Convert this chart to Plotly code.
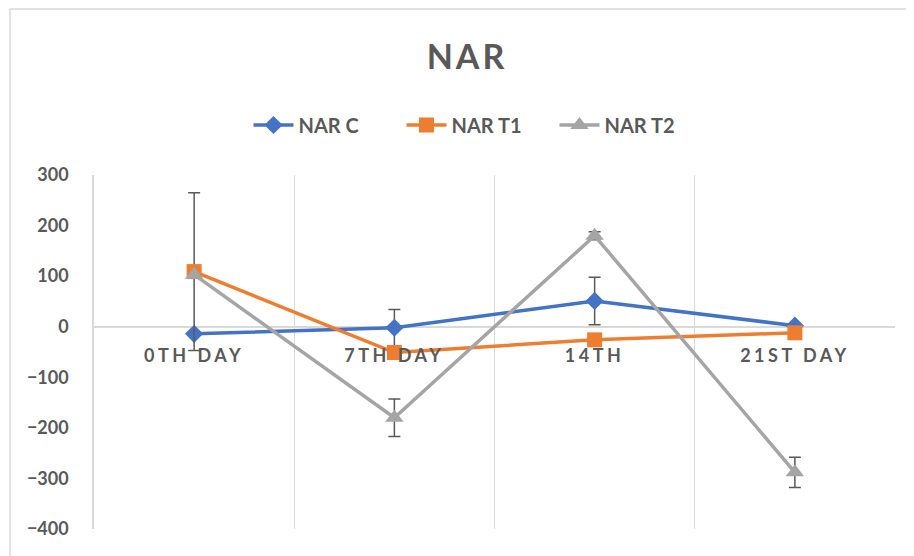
import plotly.graph_objects as go

categories = ["0TH DAY", "7TH DAY", "14TH", "21ST DAY"]
nar_c = [-14, -2, 51, 2]
nar_t1 = [109, -51, -26, -12]
nar_t2 = [103, -180, 180, -288]
err_c = [None, 36, 47, None]
err_t1 = [156, None, None, None]
err_t2 = [None, 37, 8, 30]
y_ticks = [300, 200, 100, 0, -100, -200, -300, -400]

FONT = "Lato"
TXT = "#595959"
GRID = "#D9D9D9"

def spaced(s, px):
    return f'<span style="letter-spacing:{px}px">{s}</span>'

fig = go.Figure()
series = [
    ("NAR C", nar_c, err_c, "#4472C4", "diamond", 14),
    ("NAR T1", nar_t1, err_t1, "#ED7D31", "square", 15),
    ("NAR T2", nar_t2, err_t2, "#A5A5A5", "triangle-up", 16),
]
for name, vals, err, col, sym, sz in series:
    fig.add_trace(go.Scatter(
        x=categories, y=vals, name=name, mode="lines+markers",
        line=dict(color=col, width=3.5),
        marker=dict(symbol=sym, size=sz, color=col),
        error_y=dict(type="data", array=err, visible=True, color="#595959",
                     thickness=1.5, width=6),
    ))

# page body has an 8px offset; target pixel positions are reduced by 8
L, R, T, B = 86, 27, 167, 35
PW = 914 - L - R
PH = 556 - T - B

def px(x):
    return (x - 8 - L) / PW

def py(y):
    return (556 - B - (y - 8)) / PH

fig.update_layout(
    width=914, height=556,
    margin=dict(l=L, r=R, t=T, b=B),
    paper_bgcolor="white", plot_bgcolor="white",
    font=dict(family=FONT, color=TXT),
    title=dict(text=spaced("NAR", 3), x=px(467), xref="paper", y=1 - (57 - 8) / 556,
               yref="container", xanchor="center", yanchor="middle",
               font=dict(size=34, family=FONT, color=TXT, weight=700)),
    legend=dict(orientation="h", x=px(478), xanchor="center", y=py(125),
                yanchor="middle", font=dict(size=20, family=FONT, color=TXT, weight=700),
                itemwidth=40, entrywidth=98, entrywidthmode="pixels",
                bgcolor="rgba(0,0,0,0)"),
    xaxis=dict(
        type="category", tickvals=categories,
        ticktext=[spaced(c, 3.5) for c in categories],
        tickson="boundaries", showgrid=True, gridcolor=GRID, gridwidth=1,
        showline=False, zeroline=False, ticks="",
        anchor="free", position=4 / 7, ticklabelstandoff=16,
        tickfont=dict(size=18, family=FONT, color=TXT, weight=700),
        range=[-0.5, 3.5],
    ),
    yaxis=dict(
        range=[-400, 300], tickvals=y_ticks, showgrid=False,
        zeroline=True, zerolinecolor=GRID, zerolinewidth=1.5,
        showline=True, linecolor=GRID, linewidth=1.5, ticks="",
        ticklabelstandoff=20,
        tickfont=dict(size=18, family=FONT, color=TXT, weight=700),
    ),
    showlegend=True,
)

fig.add_shape(type="line", xref="paper", yref="paper", x0=px(10), x1=1.1,
              y0=py(9), y1=py(9), line=dict(color=GRID, width=1.5))
fig.add_shape(type="line", xref="paper", yref="paper", x0=px(10), x1=px(10),
              y0=-0.2, y1=py(9), line=dict(color=GRID, width=1.5))

fig.write_html("out.html")
